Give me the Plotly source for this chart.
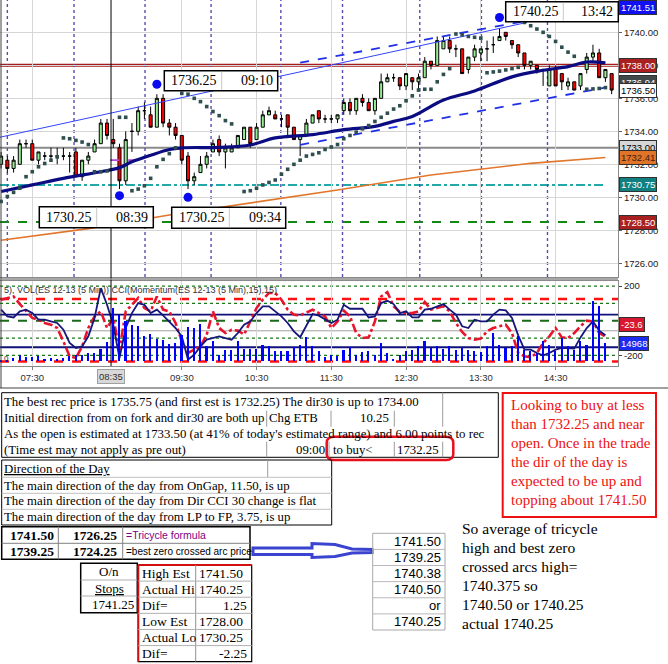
import pandas as pd
import plotly.graph_objects as go

W, H = 668, 664
SERIF = "Liberation Serif"
SANS = "Liberation Sans"

# ---- 5 minute bars, ES 12-13 ----
bar_times = pd.date_range("2013-11-21 07:05", periods=99, freq="5min")

opens = [1732.0, 1732.25, 1731.75, 1732.0, 1733.25, 1733.25, 1732.25, 1732.5, 1732.5, 1732.5,
         1732.5, 1732.5, 1732.75, 1731.25, 1732.25, 1732.75, 1733.25, 1734.5, 1733.5, 1733.0,
         1731.0, 1734.0, 1734.0, 1735.25, 1735.0, 1734.25, 1736.0, 1734.5, 1734.25, 1733.75,
         1732.5, 1731.0, 1731.5, 1732.0, 1732.75, 1733.5, 1732.75, 1732.75, 1733.0, 1733.5,
         1734.25, 1733.5, 1734.25, 1735.0, 1735.0, 1734.75, 1735.0, 1734.25, 1733.5, 1733.75,
         1734.5, 1735.25, 1734.75, 1734.75, 1734.75, 1735.25, 1735.75, 1735.25, 1736.0, 1735.75,
         1735.25, 1736.0, 1737.0, 1737.25, 1737.25, 1736.75, 1737.25, 1737.0, 1737.25, 1738.25,
         1738.0, 1739.0, 1739.5, 1739.0, 1739.0, 1737.75, 1738.5, 1738.75, 1739.0, 1739.25,
         1739.5, 1740.0, 1739.5, 1739.25, 1738.75, 1738.0, 1738.0, 1737.75, 1736.75, 1737.75,
         1737.5, 1736.75, 1737.0, 1736.75, 1737.75, 1738.5, 1738.75, 1737.25, 1737.5]
highs = [1732.75, 1732.5, 1732.5, 1733.5, 1733.5, 1733.5, 1732.75, 1732.75, 1733.0, 1733.0,
         1733.0, 1732.75, 1733.0, 1732.25, 1732.75, 1733.5, 1734.75, 1734.75, 1734.75, 1733.25,
         1734.0, 1734.5, 1735.5, 1735.75, 1735.5, 1736.25, 1736.25, 1734.75, 1734.5, 1733.75,
         1732.75, 1731.5, 1732.5, 1732.75, 1733.5, 1733.75, 1733.25, 1733.25, 1733.75, 1734.25,
         1734.25, 1734.5, 1735.25, 1735.5, 1735.25, 1735.0, 1735.0, 1734.25, 1733.75, 1734.75,
         1735.0, 1735.25, 1735.0, 1735.0, 1735.0, 1736.0, 1736.0, 1736.0, 1736.25, 1736.0,
         1736.0, 1737.5, 1737.5, 1737.5, 1737.25, 1737.5, 1737.25, 1737.5, 1738.5, 1738.25,
         1739.75, 1739.75, 1739.75, 1739.25, 1739.0, 1738.5, 1739.25, 1739.0, 1739.5, 1739.75,
         1740.25, 1740.0, 1739.5, 1739.25, 1738.75, 1738.25, 1738.0, 1737.75, 1738.0, 1738.0,
         1737.5, 1737.25, 1737.0, 1737.5, 1738.75, 1739.25, 1739.0, 1737.75, 1737.5]
lows = [1731.75, 1731.5, 1731.5, 1732.0, 1733.0, 1732.25, 1732.0, 1732.25, 1732.25, 1732.0,
        1732.25, 1731.5, 1731.25, 1731.0, 1732.0, 1732.75, 1733.25, 1733.5, 1733.0, 1730.5,
        1730.75, 1732.75, 1733.75, 1734.75, 1734.25, 1734.25, 1734.25, 1733.75, 1733.5, 1732.0,
        1730.5, 1730.75, 1731.5, 1731.75, 1732.75, 1732.5, 1731.75, 1732.75, 1733.0, 1733.5,
        1733.0, 1733.5, 1734.25, 1735.0, 1734.75, 1734.25, 1733.75, 1733.5, 1732.5, 1733.75,
        1734.5, 1734.5, 1734.5, 1734.5, 1734.5, 1735.0, 1735.0, 1735.0, 1735.5, 1735.25,
        1735.0, 1736.0, 1737.0, 1737.0, 1736.5, 1736.5, 1736.5, 1736.5, 1737.25, 1737.75,
        1738.0, 1739.0, 1738.75, 1738.5, 1737.5, 1737.5, 1738.25, 1738.25, 1738.25, 1738.75,
        1739.5, 1739.5, 1739.0, 1738.5, 1737.75, 1737.75, 1737.5, 1736.75, 1736.75, 1736.75,
        1736.5, 1736.5, 1736.5, 1736.5, 1737.5, 1738.25, 1737.25, 1737.0, 1736.25]
closes = [1732.5, 1731.75, 1732.25, 1733.25, 1733.25, 1732.25, 1732.75, 1732.5, 1732.5, 1732.5,
          1732.5, 1732.5, 1731.25, 1732.25, 1732.5, 1733.25, 1734.5, 1733.75, 1733.25, 1731.0,
          1733.5, 1734.0, 1735.25, 1735.25, 1734.25, 1736.0, 1734.5, 1734.25, 1733.75, 1732.25,
          1731.0, 1731.25, 1732.0, 1732.5, 1733.25, 1732.75, 1733.0, 1733.0, 1733.75, 1734.25,
          1733.25, 1734.25, 1735.0, 1735.25, 1734.75, 1734.75, 1734.25, 1733.5, 1733.75, 1734.5,
          1735.0, 1734.75, 1734.75, 1734.75, 1735.0, 1735.75, 1735.25, 1736.0, 1735.75, 1735.25,
          1736.0, 1737.0, 1737.25, 1737.25, 1736.75, 1737.5, 1737.0, 1737.25, 1738.25, 1738.0,
          1739.5, 1739.5, 1739.0, 1739.0, 1737.5, 1738.5, 1739.0, 1739.0, 1739.0, 1739.25,
          1739.75, 1739.75, 1739.25, 1738.75, 1738.0, 1738.25, 1737.75, 1737.75, 1737.75, 1736.75,
          1737.0, 1737.0, 1736.5, 1737.5, 1738.5, 1738.75, 1737.25, 1737.75, 1736.5]

# parabolic stop dots (None = no dot drawn)
sar = [1729.75, 1730.05, 1730.3, 1730.55, 1731.25, 1731.55, 1731.85, 1732.05, 1732.25, 1732.45,
       1733.6, 1733.55, 1733.45, 1733.35, 1733.2, 1731.55, 1731.55, 1731.6, None, 1734.85,
       1734.85, 1730.4, 1730.5, 1730.7, 1731.15, 1731.85, 1732.3, 1732.65, 1733.0, 1736.3,
       1736.25, 1736.0, 1735.8, 1735.5, 1735.2, 1734.95, 1734.65, 1734.45, None, 1730.35,
       1730.4, 1730.55, 1730.75, 1730.9, 1731.05, 1731.4, 1731.7, 1732.0, 1732.25, 1732.5,
       1732.6, 1732.7, 1732.9, 1733.05, 1733.2, 1733.55, 1733.75, 1733.95, 1734.15, 1734.35,
       1734.6, 1734.85, 1735.1, 1735.35, 1735.55, 1735.85, 1736.15, 1736.5, 1736.55, 1736.55,
       1737.0, 1737.45, 1737.8, 1739.9, 1739.85, 1739.75, 1739.7, 1739.65, 1737.55, 1737.6,
       1737.65, 1737.72, 1737.8, 1737.88, 1740.6, 1740.4, 1740.2, 1740.0, 1739.75, 1739.45,
       1739.1, 1738.8, 1738.55, None, 1736.55, 1736.57, 1736.6, 1736.65, None]

volume = [1200, 1400, 2800, 5000, 3600, 3600, 4200, 2200, 2800, 1900,
          2800, 4700, 5600, 5600, 7000, 7000, 10300, 16000, 44800, 38700,
          33600, 30800, 29400, 21000, 23000, 19000, 18200, 14500, 15400, 22400,
          28600, 28000, 31400, 13100, 17300, 5600, 9800, 9800, 16800, 10300,
          10300, 10300, 13500, 13100, 8400, 8400, 8900, 11800, 14000, 20200,
          12600, 8400, 3600, 5000, 4200, 9800, 11800, 5600, 7800, 8400,
          5600, 15400, 7000, 2200, 5600, 8900, 9800, 12600, 16800, 11200,
          12600, 10600, 12600, 9800, 11200, 9800, 8900, 7800, 12600, 23800,
          14000, 11200, 12600, 21000, 9800, 8900, 7000, 16800, 14000, 8400,
          19600, 12600, 9800, 16800, 14000, 50500, 46300, 14968, None]

cci = [64, 25, 19, 54, 64, 44, 6, 6, -4, -13,
       -52, -128, -157, -148, -90, 16, 188, 92, -23, -215,
       -42, 44, 102, 92, 44, 64, 31, -4, -42, -90,
       -224, -196, -148, -109, -100, -90, -100, -109, -71, -23,
       -4, 44, 83, 83, 54, 25, -13, -61, -95, -31,
       39, 29, 6, -13, 6, 92, 69, 69, 69, 19,
       25, 102, 115, 96, 44, 54, 19, 19, 64, 69,
       83, 96, 64, 35, -32, -42, 6, -4, -4, 35,
       64, 60, 16, -84, -167, -167, -186, -200, -186, -167,
       -157, -161, -161, -96, -42, -4, -57, -84, None]

cci_mom = [121, 131, 140, 96, 54, 16, 6, -13, -23, -42,
           -119, -205, -215, -148, -42, 25, 54, -42, 16, -167,
           54, 92, 131, 73, 54, 140, 64, 54, -13, -119,
           -186, -167, -148, -80, 54, -42, -71, -52, -57, -80,
           -4, 73, 121, 160, 160, 121, 64, 35, 30, 45,
           64, 44, 25, -42, -4, 58, 25, -71, -100, -96,
           -4, 140, 165, 83, 50, 44, 44, 54, 108, 64,
           73, 83, 54, -13, -65, -100, -109, -103, -61, -42,
           -32, -23, -71, -186, -205, -211, -186, -128, -90, -42,
           -96, -100, -71, -32, 0, -4, -71, -90, None]
cci_last = -23.6

# moving averages, read at a few bars
navy_ma_bars = [0, 5, 10, 16, 19, 21, 24, 27, 29, 35, 40, 44, 50, 55, 60, 63, 66, 71, 76, 82, 87, 91, 94, 97]
navy_ma_vals = [1730.35, 1730.75, 1731.15, 1731.55, 1731.8, 1732.15, 1732.55, 1732.9, 1733.0, 1733.03,
                1733.17, 1733.6, 1733.8, 1734.1, 1734.3, 1734.6, 1734.9, 1735.9, 1736.45, 1737.3,
                1737.7, 1737.92, 1738.2, 1738.15]
orange_ma_bars = [0, 14, 27, 41, 54, 69, 85, 97]
orange_ma_vals = [1727.4, 1728.1, 1728.93, 1729.73, 1730.44, 1731.35, 1732.06, 1732.41]

# drawn trendlines: (bar positions, prices)
channel_thin = ([-0.2, 84.4], [1733.64, 1740.6])
channel_upper = ([48, 84.4], [1738.16, 1740.7])
channel_lower = ([48, 97.2], [1733.18, 1736.67])
purple_seg = ([17.5, 21.8], [1732.26, 1732.26])

# swing highs / lows
swing_bars = [19, 25, 30, 80]
swing_dots = [1730.1, 1736.85, 1730.0, 1740.9]
callout_prices = ["1730.25", "1736.25", "1730.25", "1740.25"]
callout_times = ["08:39", "09:10", "09:34", "13:42"]

level_prices = [1738.00, 1733.00, 1730.75, 1728.50]
session_marks = [1.0, 11.7, 23.1, 33.7, 44.9, 54.8, 67.2, 77.1, 87.7]
cursor_bar = 17.64

tag_prices = [1741.51, 1738.00, 1736.94, 1736.50, 1733.00, 1732.41, 1730.75, 1728.50]
tag_bg = ["#1010f0", "#a82020", "#404848", "#ffffff", "#d6d6d6", "#e07428", "#108080", "#a82020"]
tag_fg = ["white", "white", "white", "black", "black", "#402010", "white", "white"]


def t(k):
    return (bar_times[0] + pd.Timedelta(minutes=5 * k)).round("s")


fig = go.Figure()

# ---- price panel ----
fig.add_trace(go.Candlestick(
    x=bar_times, open=opens, high=highs, low=lows, close=closes,
    increasing=dict(line=dict(color="black", width=1), fillcolor="#98ec98"),
    decreasing=dict(line=dict(color="black", width=1), fillcolor="#ff0000"),
    whiskerwidth=0, showlegend=False, hoverinfo="skip"))

fig.add_trace(go.Scatter(x=[t(k) for k in orange_ma_bars], y=orange_ma_vals, mode="lines",
                         line=dict(color="#e2762c", width=1.6), showlegend=False))
fig.add_trace(go.Scatter(x=[t(k) for k in channel_thin[0]], y=channel_thin[1], mode="lines",
                         line=dict(color="#3344ff", width=1), showlegend=False))
for seg_ in (channel_upper, channel_lower):
    fig.add_trace(go.Scatter(x=[t(k) for k in seg_[0]], y=seg_[1], mode="lines",
                             line=dict(color="#2030e8", width=1.8, dash="dash"), showlegend=False))
fig.add_trace(go.Scatter(x=[t(k) for k in purple_seg[0]], y=purple_seg[1], mode="lines",
                         line=dict(color="#b548d8", width=1.8, dash="dash"), showlegend=False))
fig.add_trace(go.Scatter(x=[t(k) for k in navy_ma_bars], y=navy_ma_vals, mode="lines",
                         line=dict(color="#0c0c82", width=3.2, shape="spline"), showlegend=False))
fig.add_trace(go.Scatter(x=bar_times, y=sar, mode="markers",
                         marker=dict(symbol="square", size=3.6, color="#2f4f4f"), showlegend=False))
fig.add_trace(go.Scatter(x=[t(k) for k in swing_bars], y=swing_dots, mode="markers",
                         marker=dict(symbol="circle", size=9, color="#0a0aee"), showlegend=False))

# ---- indicator panel ----
fig.add_trace(go.Bar(x=bar_times, y=volume, width=5 * 60 * 1000 * 0.26, marker=dict(color="#0000ff", line_width=0),
                     xaxis="x2", yaxis="y3", showlegend=False))
fig.add_trace(go.Scatter(x=bar_times, y=cci_mom, mode="lines", xaxis="x2", yaxis="y2",
                         line=dict(color="#e8142c", width=2.6, dash="dashdot"), showlegend=False))
fig.add_trace(go.Scatter(x=bar_times, y=cci, mode="lines", xaxis="x2", yaxis="y2",
                         line=dict(color="#16167a", width=1.8), showlegend=False))

# level lines in the price panel
level_styles = [("#a81c1c", "solid", 3, 1.0), ("#8a8a8a", "solid", 2, 1.0),
                ("#22a8a8", "dashdot", 2, 0.977), ("#128a12", "dash", 2, 0.98)]
for p, (col, dash, wid, xend) in zip(level_prices, level_styles):
    fig.add_shape(type="line", xref="x domain", yref="y", x0=0, x1=xend, y0=p, y1=p,
                  line=dict(color=col, width=wid, dash=dash), layer="below")

# indicator reference lines
ind_levels = [(200, "#1a7a1a", "dot", 1.2), (125, "#ff1010", "dash", 2.4), (100, "#1a7a1a", "dot", 1.2),
              (35, "#10107a", "solid", 1.8), (0, "#1a6a1a", "dash", 2), (-58, "#a0a0a0", "solid", 1),
              (-100, "#1a7a1a", "dot", 1.2), (-153, "#10107a", "solid", 1.8), (-200, "#1a7a1a", "dot", 1.2),
              (-235, "#ff1010", "dash", 2.4)]
for lv, col, dash, wid in ind_levels:
    fig.add_shape(type="line", xref="x2 domain", yref="y2", x0=0, x1=1, y0=lv, y1=lv,
                  line=dict(color=col, width=wid, dash=dash), layer="below")

for k in session_marks:
    fig.add_shape(type="line", xref="x", yref="y", x0=t(k), x1=t(k), y0=1725.17, y1=1741.96,
                  line=dict(color="#5a4ab0", width=1.4, dash="dot"), layer="below")
fig.add_shape(type="line", xref="x", yref="paper", x0=t(cursor_bar), x1=t(cursor_bar),
              y0=1 - 366 / H, y1=1, line=dict(color="black", width=1), layer="above")


def box(x0, y0, x1, y1, color="black", width=1, fill=None):
    fig.add_shape(type="rect", xref="paper", yref="paper", x0=x0 / W, x1=x1 / W,
                  y0=1 - y0 / H, y1=1 - y1 / H, line=dict(color=color, width=width),
                  fillcolor=fill, layer="above")


def seg(x0, y0, x1, y1, color="#9a9a9a", width=1):
    fig.add_shape(type="line", xref="paper", yref="paper", x0=x0 / W, x1=x1 / W,
                  y0=1 - y0 / H, y1=1 - y1 / H, line=dict(color=color, width=width), layer="above")


def txt(x, y, s, size=12.8, color="black", family=SERIF, anchor="left", **kw):
    fig.add_annotation(x=x / W, y=1 - y / H, xref="paper", yref="paper", text=s, showarrow=False,
                       xanchor=anchor, yanchor="middle", font=dict(size=size, color=color, family=family),
                       borderpad=0, **kw)


# callout boxes (price | time)
callout_boxes = [(39.3, 206.7, 153.3, 227.7, 96.7), (164.3, 70.7, 277.7, 90.7, 221.7),
                 (171.7, 207.3, 285.7, 228.3, 229.3), (505.7, 1.7, 618.3, 21.7, 563.3)]
for (x0, y0, x1, y1, xd), pr, tm in zip(callout_boxes, callout_prices, callout_times):
    box(x0, y0, x1, y1, color="black", width=1.5, fill="white")
    seg(xd, y0 + 1, xd, y1 - 1, color="#c8c8c8")
    txt(x0 + 6, (y0 + y1) / 2, pr, size=14)
    txt(x1 - 4, (y0 + y1) / 2, tm, size=14, anchor="right")

# price tags on the right
for p, bg, fg in zip(tag_prices, tag_bg, tag_fg):
    fig.add_annotation(x=619 / W, y=p, xref="paper", yref="y", text=f"{p:.2f}", showarrow=False,
                       xanchor="left", yanchor="middle", bgcolor=bg, bordercolor="#303030", borderwidth=1,
                       borderpad=1, font=dict(size=9.5, color=fg, family=SANS))
fig.add_annotation(x=619 / W, y=cci_last, xref="paper", yref="y2", text=f"{cci_last}", showarrow=False,
                   xanchor="left", yanchor="middle", bgcolor="#d81830", bordercolor="#303030", borderwidth=1,
                   borderpad=1, font=dict(size=9.5, color="white", family=SANS))
fig.add_annotation(x=619 / W, y=volume[-2], xref="paper", yref="y3", text=f"{volume[-2]}", showarrow=False,
                   xanchor="left", yanchor="middle", bgcolor="#1a2af0", bordercolor="#303030", borderwidth=1,
                   borderpad=1, font=dict(size=9.5, color="white", family=SANS))

txt(3, 290, "5), VOL(ES 12-13 (5 Min)) CCI(Momentum(ES 12-13 (5 Min),15),15)", size=9, color="#303040", family=SANS)
txt(3, 359, "0", size=8, color="#303040", family=SANS)
fig.add_annotation(x=t(cursor_bar), y=1 - 377 / H, xref="x2", yref="paper", text="08:35", showarrow=False,
                   xanchor="center", yanchor="middle", bgcolor="#d8d8d8", bordercolor="#a0a0a0", borderwidth=1,
                   borderpad=1, font=dict(size=9.5, color="#303030", family=SANS))

# frame lines
seg(1, 0, 1, 388, color="#404040")
seg(0, 388, 668, 388, color="#404040")
seg(0, 279, 618, 279, color="#8a8a8a", width=1.5)

# ---- spreadsheet notes below the chart ----
box(1.7, 392.7, 498.3, 457.3, width=1)
for y0, y1, xs in [(392.7, 410.7, [442.7]), (410.7, 426.7, [266.7, 331, 394.3, 442.7]),
                   (441.7, 457.3, [266.7, 329, 394.3, 442.7])]:
    for xv in xs:
        seg(xv, y0, xv, y1)
txt(3, 402, "The best rec price is 1735.75 (and first est is 1732.25) The dir30 is up to 1734.00")
txt(3, 418.5, "Initial direction from on fork and dir30 are both up")
txt(268, 418.5, "Chg ETB")
txt(390, 418.5, "10.25", anchor="right")
txt(3, 434, "As the open is estimated at 1733.50 (at 41% of today's estimated range) and 6.00 points to rec")
txt(3, 449.5, "(Time est may not apply as pre out)")
txt(326, 449.5, "09:00", anchor="right")
txt(331.5, 449.5, "to buy&lt;")
txt(396, 449.5, "1732.25")


def pt(x, y):
    return f"{x / W:.5f},{1 - y / H:.5f}"


rr = (f"M {pt(334, 436.7)} L {pt(446, 436.7)} Q {pt(453.3, 436.7)} {pt(453.3, 443)} "
      f"L {pt(453.3, 454)} Q {pt(453.3, 460)} {pt(446, 460)} L {pt(334, 460)} "
      f"Q {pt(326.7, 460)} {pt(326.7, 454)} L {pt(326.7, 443)} Q {pt(326.7, 436.7)} {pt(334, 436.7)} Z")
fig.add_shape(type="path", xref="paper", yref="paper", layer="above", path=rr,
              line=dict(color="#e8101c", width=2.5))

box(1.7, 460, 331.7, 525, width=1)
seg(267.7, 460, 267.7, 477.3)
for yv in (477.3, 493.3, 509.3):
    seg(1.7, yv, 331.7, yv, color="#c0c0c0")
txt(3, 469, "<u>Direction of the Day</u>")
txt(3, 485.5, "The main direction of the day from OnGap, 11.50, is up")
txt(3, 501.5, "The main direction of the day from Dir CCI 30 change is flat")
txt(3, 517, "The main direction of the day from LP to FP, 3.75, is up")

box(1.7, 526.7, 250, 559.3, width=1.5)
seg(1.7, 543.3, 250, 543.3, color="#808080")
seg(58.3, 526.7, 58.3, 559.3, color="#808080")
seg(122.7, 526.7, 122.7, 559.3, color="#808080")
txt(55, 535, "<b>1741.50</b>", size=13.5, anchor="right")
txt(118.3, 535, "<b>1726.25</b>", size=13.5, anchor="right")
txt(124.5, 535, "=Tricycle formula", size=10.5, color="#800080", family=SANS)
txt(55, 551.5, "<b>1739.25</b>", size=13.5, anchor="right")
txt(118.3, 551.5, "<b>1724.25</b>", size=13.5, anchor="right")
txt(124.5, 551.5, "=best zero crossed arc price", size=10, family=SANS)

arrow = [(253, 548), (312, 548), (312, 543.5), (335, 544.5), (352, 549), (372, 549.5), (372, 552.5),
         (352, 553), (335, 556.5), (312, 557.5), (312, 554.5), (253, 554.5)]
fig.add_shape(type="path", xref="paper", yref="paper", layer="above",
              path="M " + " L ".join(pt(x, y) for x, y in arrow) + " Z",
              line=dict(color="#3a44d0", width=3), fillcolor="white")

box(80.7, 563.3, 137.3, 612.7, width=1.5)
seg(80.7, 580, 137.3, 580, color="#b0b0b0")
seg(80.7, 596, 137.3, 596, color="#b0b0b0")
txt(109, 571.5, "O/n", size=13, anchor="center")
txt(109, 588, "<u>Stops</u>", size=13, anchor="center")
txt(135, 604.5, "1741.25", size=13, anchor="right")

est_labels = ["High Est", "Actual Hi", "Dif=", "Low Est", "Actual Lo", "Dif="]
est_values = ["1741.50", "1740.25", "1.25", "1728.00", "1730.25", "-2.25"]
row_h = (661.7 - 565) / 6
box(138.3, 565, 251.7, 661.7, width=1.2)
seg(138.3, 565, 138.3, 661.7, color="#d01010", width=2)
seg(138.3, 565, 251.7, 565, color="#d01010", width=2)
seg(195.7, 565, 195.7, 661.7, color="#909090")
for i, (lab, val) in enumerate(zip(est_labels, est_values)):
    yc = 565 + row_h * (i + 0.5)
    if i:
        seg(138.3, 565 + row_h * i, 251.7, 565 + row_h * i, color="#b0b0b0")
    txt(140.5, yc, lab, size=13.5)
    if val.startswith("17"):
        txt(197.5, yc, val, size=13.5)
    else:
        txt(248.5, yc, val, size=13.5, anchor="right")

avg_values = ["1741.50", "1739.25", "1740.38", "1740.50", "or", "1740.25"]
row_h2 = (630 - 533.3) / 6
box(372.7, 533.3, 445, 630, color="#a8a8a8")
for i, val in enumerate(avg_values):
    if i:
        seg(372.7, 533.3 + row_h2 * i, 445, 533.3 + row_h2 * i, color="#b8b8b8")
    txt(442, 533.3 + row_h2 * (i + 0.5), val, size=13, family=SANS, anchor="right")

note_lines = ["So average of tricycle", "high and best zero", "crossed arcs high=", "1740.375 so",
              "1740.50 or 1740.25", "actual 1740.25"]
for i, line in enumerate(note_lines):
    txt(460.7, 528.3 + 19 * i, line, size=15.5)

box(502.7, 393, 656, 517, color="#ee1010", width=2)
red_lines = ["Looking to buy at less", "than 1732.25 and near", "open. Once in the trade",
             "the dir of the day is", "expected to be up and", "topping about 1741.50"]
for i, line in enumerate(red_lines):
    txt(510, 405 + 19 * i, line, size=15, color="#ee1010")

x_ticks = [ts for ts in bar_times if ts.minute == 30 and ts.hour != 8]
x_range = [t(-0.18), t(99.02)]
grid = "#d6d6d6"

fig.update_layout(
    width=W, height=H, margin=dict(l=0, r=0, t=0, b=0), autosize=False,
    paper_bgcolor="white", plot_bgcolor="rgba(0,0,0,0)", showlegend=False, bargap=0,
    xaxis=dict(domain=[0, 618 / W], range=x_range, type="date", rangeslider=dict(visible=False),
               tickvals=x_ticks, showticklabels=False, showgrid=True, gridcolor=grid,
               showline=True, linecolor="#8a8a8a", mirror=True, ticks="", anchor="y"),
    yaxis=dict(domain=[1 - 277 / H, 1], range=[1725.17, 1741.96], side="right",
               tickvals=list(range(1726, 1741, 2)), tickformat=".2f", ticks="outside", ticklen=3,
               tickcolor="#606060", showgrid=True, gridcolor=grid, showline=True, linecolor="#8a8a8a",
               tickfont=dict(size=9.5, family=SANS, color="#202020"), anchor="x", zeroline=False),
    xaxis2=dict(domain=[0, 618 / W], range=x_range, type="date", matches="x", anchor="y2",
                tickvals=x_ticks, tickformat="%H:%M", ticks="outside", ticklen=3, tickcolor="#808080",
                showgrid=True, gridcolor=grid, showline=True, linecolor="#8a8a8a", mirror=True,
                tickfont=dict(size=9.5, family=SANS, color="#303030")),
    yaxis2=dict(domain=[1 - 366 / H, 1 - 281 / H], range=[-261, 229], side="right", anchor="x2",
                tickvals=[200, -200], ticktext=["200", "-200"], ticks="outside", ticklen=3,
                showgrid=False, zeroline=False, showline=True, linecolor="#8a8a8a",
                tickfont=dict(size=9.5, family=SANS, color="#202020")),
    yaxis3=dict(overlaying="y2", range=[-3950, 67500], visible=False, anchor="x2"),
)

fig.write_html("out.html", config={"displayModeBar": False},
               post_script="document.body.style.margin='0px';")
